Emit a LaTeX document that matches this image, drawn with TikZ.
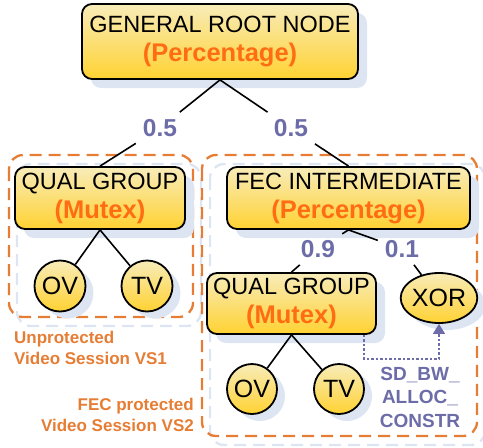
\documentclass[tikz,border=0pt]{standalone}
\usepackage{fontspec}
\setmainfont{Liberation Sans}
\usetikzlibrary{shapes.geometric,shadows,arrows.meta}

\definecolor{pale}{RGB}{248,236,185}
\definecolor{gold}{RGB}{255,210,50}
\definecolor{shadowblue}{RGB}{221,228,242}
\definecolor{accent}{RGB}{255,108,18}
\definecolor{groupline}{RGB}{230,125,52}
\definecolor{slate}{RGB}{108,108,168}

\newcommand{\policy}[1]{{\color{accent}\bfseries\fontsize{25.5}{29}\selectfont(#1)}}

\begin{document}
\begin{tikzpicture}[x=1pt, y=-1pt,
    opnode/.style={draw, line width=1.8pt, rounded corners=10pt, top color=pale, bottom color=gold,
        align=center, inner sep=0pt, font=\fontsize{23.5}{29}\selectfont,
        drop shadow={shadow xshift=9pt, shadow yshift=-9pt, fill=shadowblue, opacity=1}},
    leaf/.style={draw, line width=1.8pt, top color=pale, bottom color=gold, inner sep=0pt,
        font=\fontsize{25}{25}\selectfont,
        drop shadow={shadow xshift=8pt, shadow yshift=-7pt, fill=shadowblue, opacity=1}},
    weight/.style={font=\bfseries\fontsize{24.5}{24.5}\selectfont, text=slate, inner sep=7pt},
    edge/.style={line width=1.6pt},
    group/.style={draw=groupline, line width=2.3pt, dash pattern=on 12pt off 7pt, rounded corners=14pt},
    groupshadow/.style={draw=shadowblue, line width=2.3pt, dash pattern=on 12pt off 7pt, rounded corners=14pt},
    grouplabel/.style={font=\bfseries\fontsize{17}{21}\selectfont, text=groupline, inner sep=0pt},
    constr/.style={draw=slate, line width=1.5pt, dash pattern=on 2.5pt off 2pt,
        -{Triangle[width=12pt,length=10pt]}}]

    \useasboundingbox (0,0) rectangle (483,448);

    % Session groups
    \draw[groupshadow] (17,164) rectangle (201,326);
    \draw[groupshadow] (210,164) rectangle (485,445);
    \draw[group] (9,155) rectangle (193,317);
    \draw[group] (202,155) rectangle (477,436);

    % Root
    \node[opnode, minimum width=276pt, minimum height=75pt] (root) at (220,41.5)
        {GENERAL ROOT NODE\\\policy{Percentage}};

    % Unprotected session
    \node[opnode, minimum width=170pt, minimum height=62pt] (q1) at (100,198)
        {QUAL GROUP\\\policy{Mutex}};
    \node[leaf, circle, minimum size=51pt] (ov1) at (60,286) {OV};
    \node[leaf, circle, minimum size=51pt] (tv1) at (147,286) {TV};

    % FEC protected session
    \node[opnode, minimum width=243pt, minimum height=62pt] (fec) at (348.5,198)
        {FEC INTERMEDIATE\\\policy{Percentage}};
    \node[opnode, minimum width=169pt, minimum height=61pt] (q2) at (291.5,303.5)
        {QUAL GROUP\\\policy{Mutex}};
    \node[leaf, ellipse, minimum width=64pt, minimum height=50pt] (xor) at (439,298) {XOR};
    \node[leaf, circle, minimum size=50pt] (ov2) at (252,389) {OV};
    \node[leaf, circle, minimum size=50pt] (tv2) at (339,389) {TV};

    % Weights
    \node[weight] (w1) at (160,128) {0.5};
    \node[weight] (w2) at (291,128) {0.5};
    \node[weight] (w3) at (318,249) {0.9};
    \node[weight] (w4) at (402,249) {0.1};

    % Edges
    \draw[edge] (root.south) -- (w1);
    \draw[edge] (w1) -- (q1.north);
    \draw[edge] (root.south) -- (w2);
    \draw[edge] (w2) -- (fec.north);
    \draw[edge] (q1.south) -- (ov1);
    \draw[edge] (q1.south) -- (tv1);
    \draw[edge] (fec.south) -- (w3);
    \draw[edge] (w3) -- (q2.north);
    \draw[edge] (fec.south) -- (w4);
    \draw[edge] (w4) -- (xor);
    \draw[edge] (q2.south) -- (ov2);
    \draw[edge] (q2.south) -- (tv2);

    % Bandwidth constraint
    \draw[constr] ([xshift=-13pt]q2.south east) -- ++(0,24) -| (xor.south);
    \node[font=\bfseries\fontsize{19}{23.5}\selectfont, text=slate, align=center] (cons) at (420,397)
        {SD\_BW\_\\ALLOC\_\\CONSTR};

    % Group labels
    \node[grouplabel, anchor=west, align=left] (lbl1) at (14,348) {Unprotected\\Video Session VS1};
    \node[grouplabel, anchor=east, align=right] (lbl2) at (194,415) {FEC protected\\Video Session VS2};
\end{tikzpicture}
\end{document}
